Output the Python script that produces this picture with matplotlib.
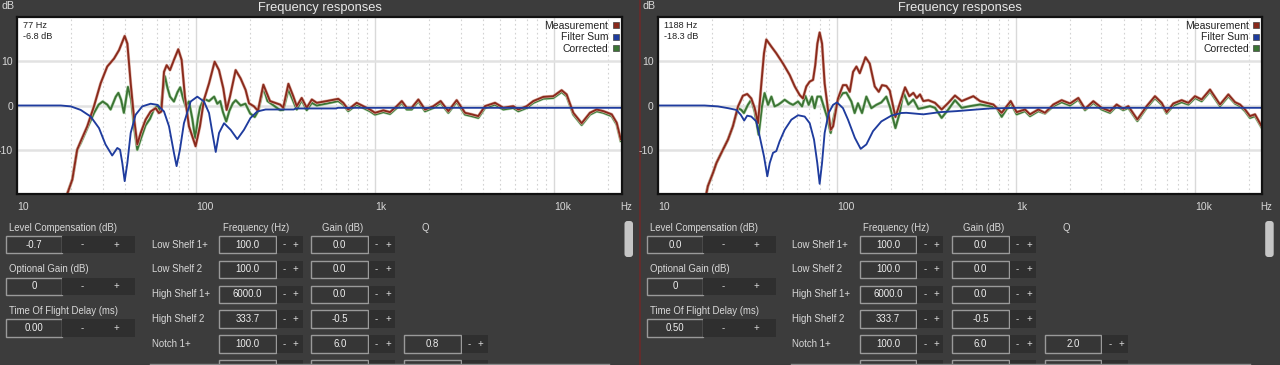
import matplotlib
matplotlib.use('Agg')
import matplotlib.pyplot as plt
import matplotlib.patheffects as pe
from matplotlib.patches import Rectangle, FancyBboxPatch
from matplotlib.lines import Line2D
from matplotlib.ticker import LogLocator, NullFormatter

plt.rcParams['font.family'] = ['Liberation Sans', 'DejaVu Sans']

# ---- values: (Hz, dB) ----
left_meas = [(19.0, -20.0), (20.3, -16.7), (21.6, -10.0), (22.6, -8.1), (24.6, -4.7), (26.8, -0.2),
             (29.2, 5.0), (31.8, 8.8), (34.7, 10.6), (37.0, 12.5), (39.8, 15.7), (41.2, 14.0),
             (43.0, 5.0), (44.8, -2.5), (46.8, -8.8), (48.9, -6.2), (52.1, -3.2), (55.6, -1.35),
             (59.3, -0.6), (61.8, -1.7), (63.8, -1.35), (66.0, 7.6), (68.3, 9.1), (71.3, 8.0),
             (75.0, 10.3), (79.3, 12.7), (82.8, 10.3), (86.4, 2.0), (91.0, -4.7), (99.1, -9.2),
             (104.8, -4.7), (110.4, 1.3), (117.8, 5.0), (126.6, 9.9), (133.9, 8.0), (141.5, 3.9),
             (147.7, -1.0), (154.2, 2.0), (165.9, 8.0), (176.9, 6.1), (188.6, 3.5), (197.0, 0.5),
             (210, -0.2), (221, -1.2), (237, 4.7), (258, 1.0), (294, 0.2), (306, -0.5), (327, 4.9),
             (348, 2.1), (364, -0.15), (388, 1.7), (414, -0.5), (442, 1.35), (471, 0.6), (535, 1.0),
             (621, 1.5), (662, 0.6), (706, -0.9), (787, 0.6), (857, -0.15), (934, -0.9), (996, -1.65),
             (1109, -1.1), (1208, -1.5), (1318, -0.15), (1406, 1.0), (1498, -0.5), (1597, -0.5),
             (1740, 1.35), (1896, -0.9), (2110, -0.15), (2318, 1.0), (2558, -1.27), (2849, 1.2),
             (3170, -1.65), (3456, -2.0), (3760, -2.4), (4100, -0.15), (4665, 0.6), (5190, -0.5),
             (5900, -0.15), (6295, -0.9), (7015, -0.15), (7638, 1.0), (8690, 1.95), (9870, 2.1),
             (10990, 3.45), (11720, 2.5), (12770, -1.65), (14220, -4.0), (15820, -1.65),
             (17250, -0.9), (18780, -1.27), (20930, -2.0), (22320, -3.9), (23500, -7.6)]

left_sum = [(10, 0), (17.5, 0), (19.9, -0.2), (22.6, -1.0), (25.7, -2.5), (28.6, -5.1), (31.1, -8.8),
            (33.9, -11.3), (36.2, -9.6), (37.5, -10.0), (38.6, -13.0), (39.8, -17.1), (41.2, -13.0),
            (43.0, -6.2), (45.8, -2.1), (49.9, -0.2), (55.6, 0.4), (60.6, 0.15), (66.0, -1.35),
            (70.4, -4.7), (75.0, -10.7), (77.6, -13.7), (81.0, -10.0), (85.3, -4.0), (93.0, 0.9),
            (101.3, 2.0), (110.4, 0.9), (117.8, -1.7), (123.0, -6.2), (128.4, -10.5), (134, -6.2),
            (142.9, -4.0), (155.6, -5.5), (169.5, -7.6), (184.6, -5.5), (201, -2.8), (219, -1.35),
            (244, -0.9), (350, -0.9), (360, -0.67), (600, -0.67), (620, -0.52), (23800, -0.52)]

left_corr = [(19.0, -20.0), (20.3, -16.7), (21.6, -10.0), (22.6, -8.5), (24.6, -5.1), (26.8, -1.7),
             (28.5, 0.2), (30.0, 0.9), (31.8, 0.2), (33.2, -0.9), (35.5, 2.0), (36.7, 2.85), (38.0, 1.3),
             (39.4, -1.65), (41.5, 4.2), (43.3, 1.3), (45.0, -5.0), (46.8, -10.0), (49.0, -7.5),
             (52.0, -4.5), (55.1, -3.0), (58.0, -0.8), (61.0, 0.0), (63.0, -1.5), (65.0, 3.0),
             (66.8, 6.6), (69.0, 4.0), (71.3, 2.0), (75.0, 0.9), (78.5, 3.0), (81.3, 4.1), (84.5, 1.5),
             (87.3, -0.2), (91.0, 0.9), (95.0, -3.0), (98.5, -7.4), (102.0, -3.0), (105.0, -0.4),
             (110.4, 1.5), (117.8, 1.0), (125.8, 2.0), (131.0, 0.4), (136.0, 1.0), (141.0, -1.5),
             (147.0, -3.6), (153.0, -1.2), (160.0, 0.5), (166.0, 1.2), (177.0, 0.0), (188.0, 0.4),
             (200.0, -1.8), (212.0, -2.6), (222.0, -1.2), (237.0, 4.0), (250.0, 1.0), (258.0, 0.6),
             (294.0, -1.05), (306.0, -1.0), (327.0, 3.6), (348.0, 1.0), (364.0, -0.9), (388.0, 1.2),
             (414.0, -1.05), (442.0, 0.6), (471.0, 0.0), (535.0, 0.45), (621.0, 1.0), (662.0, 0.2),
             (706.0, -1.27), (787, 0.2), (857, -0.55), (934, -1.3), (996, -2.05), (1109, -1.5),
             (1208, -1.9), (1318, -0.55), (1406, 0.6), (1498, -0.9), (1597, -0.9), (1740, 0.95),
             (1896, -1.3), (2110, -0.55), (2318, 0.6), (2558, -1.65), (2849, 0.8), (3170, -2.05),
             (3456, -2.4), (3760, -2.8), (4100, -0.55), (4665, 0.2), (5190, -0.9), (5900, -0.55),
             (6295, -1.3), (7015, -0.55), (7638, 0.6), (8690, 1.55), (9870, 1.7), (10990, 3.05),
             (11720, 2.1), (12770, -2.05), (14220, -4.4), (15820, -2.05), (17250, -1.3),
             (18780, -1.65), (20930, -2.4), (22320, -4.3), (23500, -8.0)]

right_meas = [(18.6, -20), (19.0, -18.2), (20.3, -15.2), (21.2, -13.0), (22.6, -10.7), (24.6, -7.7),
              (26.2, -4.7), (28.0, -0.2), (29.8, 2.2), (31.5, 2.6), (33.2, 1.6), (34.7, -0.6),
              (36.2, -4.0), (37.8, 5.0), (39.1, 11.8), (40.3, 14.9), (43.0, 13.3), (45.8, 11.8),
              (49.9, 9.5), (54.4, 6.9), (58.1, 4.3), (61.8, 2.4), (64.5, 1.6), (67.4, 4.3), (70.4, 5.4),
              (73.5, 5.8), (75.6, 9.1), (77.7, 14.0), (80.0, 16.5), (82.5, 14.0), (85.3, 5.0),
              (89.1, -1.0), (92.2, -5.5), (95.1, -4.7), (101.3, 1.6), (108.0, 4.6), (112.8, 4.6),
              (117.8, 3.1), (123.0, 7.6), (128.4, 8.8), (134.0, 7.3), (144.3, 10.9), (152.3, 9.5),
              (162.5, 4.3), (171.1, 3.1), (178.5, 4.6), (188.6, 4.4), (197.0, 3.4), (212, -2.6),
              (240, 4.1), (253.6, 2.1), (267.0, 2.85), (278.7, 1.7), (290.9, 2.5), (303.6, 1.0),
              (323.8, 1.2), (352.7, 0.6), (384.4, -0.9), (418.8, 0.6), (456.2, 2.25), (497.2, 1.0),
              (577.7, 2.1), (629.5, 1.0), (685.8, 0.6), (747.2, 0.22), (831.8, -1.65), (933.8, 1.0),
              (1008.6, -1.5), (1122.8, -0.9), (1197.7, -2.0), (1332.7, -0.9), (1452.1, -1.65),
              (1616.8, 0.22), (1799.6, 1.2), (2003.2, 0.45), (2229.7, 1.7), (2429.5, -0.75),
              (2704, 0.97), (3010, -0.52), (3351, -1.27), (3650, 0.22), (3977, -0.75), (4242, -0.15),
              (4763, -3.15), (5370, -0.15), (5977, 2.1), (6512, 0.6), (6945, -1.5), (7568, 0.45),
              (8424, 1.2), (9180, 0.6), (10000, 2.1), (10895, 1.35), (12130, 3.6), (13796, 0.22),
              (15360, 2.5), (16730, 0.75), (17840, 0.22), (19030, -0.9), (20290, -2.4),
              (21640, -2.0), (23580, -4.7)]

right_sum = [(10, 0), (18.2, 0), (21.6, -0.2), (24.6, -0.6), (27.4, -1.0), (29.0, -2.1), (30.3, -3.4),
             (31.5, -2.3), (33.2, -2.5), (35.4, -3.6), (37.0, -7.0), (39.1, -11.5), (40.8, -16.0),
             (42.1, -13.0), (43.9, -10.7), (45.8, -10.3), (47.8, -8.1), (51.0, -5.5), (55.6, -3.2),
             (60.6, -2.2), (66.0, -2.5), (70.4, -4.0), (74.4, -7.7), (77.6, -13.0), (80.0, -17.7),
             (82.5, -13.0), (85.3, -6.2), (89.8, -1.7), (95.1, 0.15), (100, 0.7), (108, -0.6),
             (115.2, -3.2), (125.8, -7.3), (135.6, -9.8), (145.9, -8.8), (158.9, -5.8), (176.9, -3.6),
             (201, -2.3), (228, -1.7), (244, -1.65), (303.6, -2.0), (376.3, -1.5), (466.1, -1.27),
             (603, -0.9), (716, -0.67), (1008.6, -0.52), (23800, -0.52)]

right_corr = [(18.6, -20), (19.0, -18.2), (20.3, -15.2), (21.2, -13.0), (22.6, -10.7), (24.6, -7.7),
              (26.2, -4.7), (28.0, -0.6), (29.2, -1.0), (30.2, -1.7), (31.8, 0.15), (33.2, 1.3),
              (34.7, -1.35), (36.5, -6.6), (38.1, -0.2), (39.4, 2.8), (41.2, 0.15), (43.0, 2.0),
              (44.8, -0.2), (46.8, 0.15), (48.9, 0.7), (51.0, 1.3), (54.4, 0.5), (56.8, 0.15),
              (60.6, 0.9), (63.8, -0.2), (66.5, 2.2), (69.5, 0.15), (72.5, 2.0), (75.0, -0.6),
              (77.7, 2.0), (81.1, 2.0), (84.3, -0.2), (87.9, -2.5), (92.2, -6.2), (96.2, -2.5),
              (101.3, 1.3), (108.0, 2.8), (112.8, 2.9), (120.3, 0.9), (125.5, -1.7), (131.0, 0.5),
              (138.0, -1.7), (145.9, 2.0), (155.6, -0.6), (165.9, 0.15), (176.9, 0.7), (188.6, 2.0),
              (198.6, -0.6), (212, -5.1), (224, -1.7), (234.8, 3.0), (250.3, 0.22), (267.0, 1.35),
              (284.7, -0.75), (303.6, -0.52), (330.8, -0.15), (352.7, -0.52), (384.4, -2.8),
              (418.8, -0.9), (456.2, 1.2), (497.2, -0.52), (553.4, -0.15), (629.5, 0.22),
              (715.9, -0.15), (779.8, -0.52), (831.8, -2.55), (933.8, 0.6), (1008.6, -2.0),
              (1122.8, -1.27), (1197.7, -2.4), (1332.7, -1.27), (1452.1, -1.8), (1616.8, -0.15),
              (1799.6, 0.75), (2003.2, 0.0), (2229.7, 1.35), (2429.5, -1.05), (2704, 0.6),
              (3010, -0.9), (3351, -1.65), (3650, -0.15), (3977, -1.05), (4242, -0.52),
              (4763, -3.5), (5370, -0.52), (5977, 1.7), (6512, 0.22), (6945, -1.8), (7568, 0.0),
              (8424, 0.75), (9180, 0.22), (10000, 1.7), (10895, 0.97), (12130, 3.2), (13796, -0.15),
              (15360, 2.1), (16730, 0.45), (17840, -0.15), (19030, -1.27), (20290, -2.8),
              (21640, -2.4), (23580, -5.0)]

series_names = ['Measurement', 'Filter Sum', 'Corrected']
cursor_text = [('77 Hz', '-6.8 dB'), ('1188 Hz', '-18.3 dB')]
x_ticks = [10, 100, 1000, 10000]
x_tick_labels = ['10', '100', '1k', '10k']
y_ticks = [-10, 0, 10]
y_tick_labels = ['-10', '0', '10']

level_comp = ['-0.7', '0.0']
optional_gain = ['0', '0']
tof_delay = ['0.00', '0.50']
filter_names = ['Low Shelf 1+', 'Low Shelf 2', 'High Shelf 1+', 'High Shelf 2', 'Notch 1+']
filter_freq = ['100.0', '100.0', '6000.0', '333.7', '100.0']
filter_gain = ['0.0', '0.0', '0.0', '-0.5', '6.0']
notch_q = ['0.8', '2.0']

# ---- styling ----
W, H = 1280, 365
BG = '#3c3c3c'
BTN = '#2f2f2f'
BOX = '#363636'
EDGE = '#9a9a9a'
TXT = '#d8d8d8'
VAL = '#f0f0f0'
RED, BLUE, GREEN = '#8a2a1c', '#1f3c9e', '#3b7434'
AX_L, AX_R, AX_T, AX_B = 17.3, 621.7, 17, 194

fig = plt.figure(figsize=(12.8, 3.65), dpi=100, facecolor=BG)
ui = fig.add_axes([0, 0, 1, 1], zorder=0)
ui.set_xlim(0, W)
ui.set_ylim(H, 0)
ui.axis('off')


def box(x0, x1, yc, text, h=17.4):
    ui.add_patch(Rectangle((x0, yc - h / 2), x1 - x0, h, fc=BOX, ec=EDGE, lw=1.0))
    if text:
        ui.text((x0 + x1) / 2, yc, text, ha='center', va='center', fontsize=6.9, color=VAL)


def buttons(x0, x1, yc, xm=None, xp=None, h=17.4):
    ui.add_patch(Rectangle((x0, yc - h / 2), x1 - x0, h, fc=BTN, ec='none'))
    if xm is not None:
        ui.text(xm, yc, '-', ha='center', va='center', fontsize=6.9, color=TXT)
        ui.text(xp, yc, '+', ha='center', va='center', fontsize=6.9, color=TXT)


def curve(ax, pts, color, halo):
    hz, db = zip(*pts)
    effects = [pe.Stroke(linewidth=2.2, foreground=halo), pe.Normal()] if halo else None
    ax.plot(hz, db, color=color, lw=1.35, path_effects=effects, solid_joinstyle='round')


def draw_panel(i, dx, meas, fsum, corr):
    ax = fig.add_axes([(AX_L + dx) / W, 1 - AX_B / H, (AX_R - AX_L) / W, (AX_B - AX_T) / H], zorder=2)
    ax.set_facecolor('white')
    ax.set_xscale('log')
    ax.set_xlim(10, 23800)
    ax.set_ylim(-20, 20)
    ax.xaxis.set_minor_locator(LogLocator(base=10, subs=range(2, 10)))
    ax.xaxis.set_minor_formatter(NullFormatter())
    ax.set_xticks(x_ticks, labels=x_tick_labels)
    ax.set_yticks(y_ticks, labels=y_tick_labels)
    for lab in ax.get_xticklabels():
        lab.set_ha('left')
    ax.tick_params(which='both', length=0, colors='#d8d8d8', labelsize=7.5)
    ax.tick_params(axis='x', pad=6)
    ax.tick_params(axis='y', pad=3)
    ax.grid(True, which='major', axis='x', color='#d9d9d9', lw=1.0)
    ax.grid(True, which='minor', axis='x', color='#d2d2d2', lw=0.8, ls=(0, (1.5, 2.5)))
    ax.grid(True, which='major', axis='y', color='#e2e2e2', lw=1.8)
    for s in ax.spines.values():
        s.set_color('#111111')
        s.set_linewidth(1.6)

    curve(ax, corr, GREEN, '#b3d4ad')
    curve(ax, meas, RED, '#dcb0a6')
    curve(ax, fsum, BLUE, None)

    handles = [Line2D([], [], ls='none', marker='s', ms=5, mfc=c, mec='#444444', mew=0.5)
               for c in (RED, BLUE, GREEN)]
    leg = ax.legend(handles, series_names, loc='upper right', markerfirst=False, frameon=False,
                    bbox_to_anchor=(1 - 2.5 / (AX_R - AX_L), 1 - 4.0 / (AX_B - AX_T)),
                    fontsize=7.5, labelspacing=0.12, handlelength=0.7, handletextpad=0.35,
                    borderpad=0, borderaxespad=0)
    for t in leg.get_texts():
        t.set_color('#222222')

    ax.text(23 + dx, 25, cursor_text[i][0], transform=ui.transData, ha='left', va='center',
            fontsize=6.6, color='#222222')
    ax.text(23 + dx, 36.7, cursor_text[i][1], transform=ui.transData, ha='left', va='center',
            fontsize=6.6, color='#222222')

    ui.text(319.5 + dx, 7.5, 'Frequency responses', ha='center', va='center', fontsize=9.3, color='#e8e8e8')
    ui.text(2 + dx, 6, 'dB', ha='left', va='center', fontsize=7.7, color='#d8d8d8')
    ui.text(620 + dx, 206.7, 'Hz', ha='left', va='center', fontsize=7, color='#d8d8d8')


def draw_controls(i, dx):
    # left column
    labels = ['Level Compensation (dB)', 'Optional Gain (dB)', 'Time Of Flight Delay (ms)']
    values = [level_comp[i], optional_gain[i], tof_delay[i]]
    for lab, val, ly, by in zip(labels, values, [227.7, 269.0, 311.3], [244.6, 286.3, 328.1]):
        ui.text(9.3 + dx, ly, lab, ha='left', va='center', fontsize=6.9, color=TXT)
        box(6 + dx, 62.3 + dx, by, val)
        buttons(62.3 + dx, 135 + dx, by, 82.7 + dx, 116 + dx)

    # filter table
    ui.text(255.7 + dx, 227.7, 'Frequency (Hz)', ha='center', va='center', fontsize=6.9, color=TXT)
    ui.text(342.7 + dx, 227.7, 'Gain (dB)', ha='center', va='center', fontsize=6.9, color=TXT)
    ui.text(425.7 + dx, 227.7, 'Q', ha='center', va='center', fontsize=6.9, color=TXT)
    rows = [244.6, 269.4, 294.2, 319.0, 343.8]
    for r, yc in enumerate(rows):
        ui.text(151.7 + dx, yc, filter_names[r], ha='left', va='center', fontsize=6.9, color=TXT)
        box(219 + dx, 275.7 + dx, yc, filter_freq[r])
        buttons(276.7 + dx, 302.7 + dx, yc, 284.3 + dx, 295.3 + dx)
        box(311.3 + dx, 368.3 + dx, yc, filter_gain[r])
        buttons(369 + dx, 395 + dx, yc, 376.7 + dx, 388.3 + dx)
    box(404 + dx, 460.7 + dx, rows[-1], notch_q[i])
    buttons(461.7 + dx, 487.7 + dx, rows[-1], 469.3 + dx, 480.3 + dx)

    # next row, cut off by the window edge
    yc = 368.6
    box(219 + dx, 275.7 + dx, yc, '')
    buttons(276.7 + dx, 302.7 + dx, yc)
    box(311.3 + dx, 368.3 + dx, yc, '')
    buttons(369 + dx, 395 + dx, yc)
    box(404 + dx, 460.7 + dx, yc, '')
    buttons(461.7 + dx, 487.7 + dx, yc)
    ui.plot([150 + dx, 609 + dx], [364, 364], color='#8c8c8c', lw=1.0)

    # scroll thumb
    ui.add_patch(FancyBboxPatch((624.5 + dx, 221), 8.5, 36, boxstyle='round,pad=0,rounding_size=3',
                                fc='#c6c6c6', ec='none'))


draw_panel(0, 0, left_meas, left_sum, left_corr)
draw_panel(1, 640.7, right_meas, right_sum, right_corr)
draw_controls(0, 0)
draw_controls(1, 640.7)
ui.plot([640, 640], [0, H], color='#6a2a2a', lw=1.2)

fig.savefig('out.png', dpi=100, facecolor=BG)
